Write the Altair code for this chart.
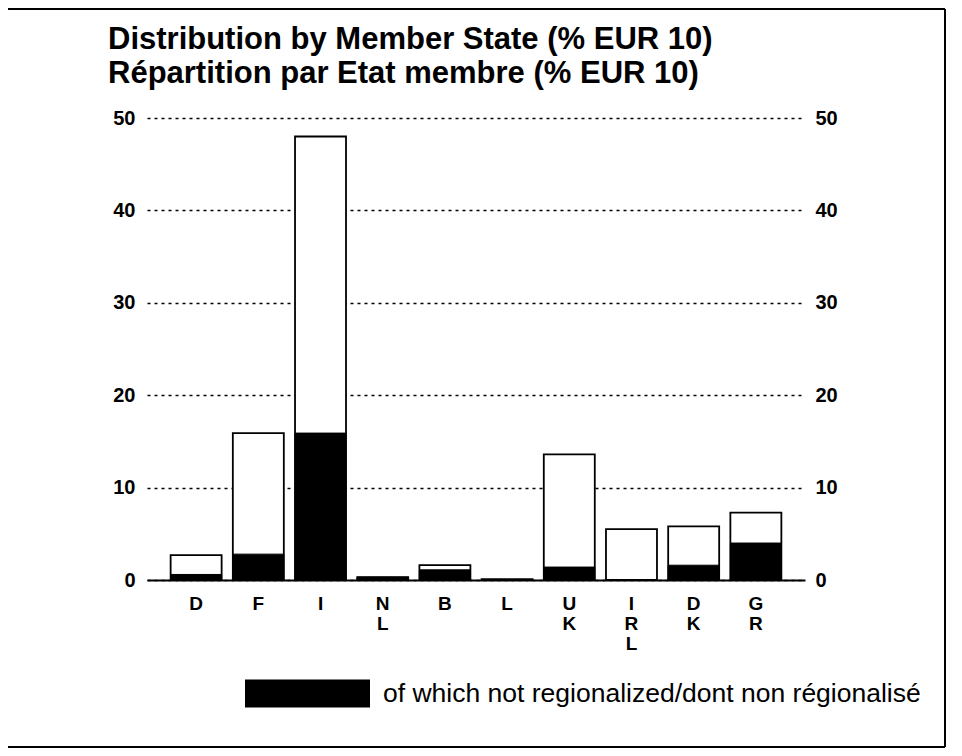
import altair as alt
import pandas as pd

FONT = "Liberation Sans"

states = ["D", "F", "I", "NL", "B", "L", "UK", "IRL", "DK", "GR"]
total = [2.7, 15.9, 48.0, 0.3, 1.6, 0.1, 13.6, 5.5, 5.8, 7.3]
not_regionalized = [0.6, 2.8, 15.9, 0.3, 1.1, 0.0, 1.4, 0.0, 1.6, 4.0]
y_ticks = [0, 10, 20, 30, 40, 50]
title_lines = [
    "Distribution by Member State (% EUR 10)",
    "Répartition par Etat membre (% EUR 10)",
]
legend_label = "of which not regionalized/dont non régionalisé"

df = pd.DataFrame({
    "state": states,
    "total": total,
    "notreg": not_regionalized,
    "kind": [legend_label] * len(states),
})

x_enc = alt.X(
    "state:N", sort=states,
    scale=alt.Scale(paddingInner=0.18, paddingOuter=0.38),
    axis=alt.Axis(
        title=None, labelAngle=0, labelExpr="split(datum.label, '')",
        labelFont=FONT, labelFontSize=19, labelFontWeight="bold", labelColor="black",
        labelPadding=14, labelBaseline="top", labelLineHeight=20,
        ticks=False, domainColor="black", domainWidth=1.8,
    ),
)
y_scale = alt.Scale(domain=[0, 50], nice=False)

left_axis = alt.Axis(
    title=None, orient="left", values=y_ticks, grid=True, gridColor="black",
    gridDash=[3, 4], gridWidth=1.3, domain=False, ticks=False,
    labelFont=FONT, labelFontSize=20, labelFontWeight="bold", labelColor="black",
    labelPadding=12,
)
right_axis = alt.Axis(
    title=None, orient="right", values=y_ticks, grid=False, domain=False, ticks=False,
    labelFont=FONT, labelFontSize=20, labelFontWeight="bold", labelColor="black",
    labelPadding=10,
)

base = alt.Chart(df)

totals = base.mark_bar(fill="white", stroke="black", strokeWidth=1.8).encode(
    x=x_enc,
    y=alt.Y("total:Q", scale=y_scale, axis=left_axis),
)

black = base.mark_bar(stroke="black", strokeWidth=1).encode(
    x=x_enc,
    y=alt.Y("notreg:Q", scale=y_scale, axis=right_axis),
    fill=alt.Fill(
        "kind:N",
        scale=alt.Scale(range=["black"]),
        legend=alt.Legend(
            title=None, orient="none", legendX=98, legendY=513,
            symbolType="M-1,-0.224H1V0.224H-1Z", symbolSize=15625,
            symbolStrokeWidth=0, symbolOpacity=1,
            labelFont=FONT, labelFontSize=26.5, labelColor="black",
            labelOffset=13, labelLimit=0, padding=0,
        ),
    ),
)

frame_src = alt.Chart(pd.DataFrame({"k": [0]}))
top_rule = frame_src.mark_rule(color="black", strokeWidth=2).encode(
    x=alt.value(-139), x2=alt.value(798), y=alt.value(-109))
right_rule = frame_src.mark_rule(color="black", strokeWidth=2).encode(
    x=alt.value(798), y=alt.value(-109), y2=alt.value(629))
bottom_rule = frame_src.mark_rule(color="black", strokeWidth=2).encode(
    x=alt.value(-139), x2=alt.value(798), y=alt.value(629))

chart = alt.layer(totals, black, top_rule, right_rule, bottom_rule).resolve_scale(
    y="independent"
).properties(
    width=658, height=462,
    title=alt.TitleParams(
        text=title_lines, anchor="start", frame="group", dx=-39, dy=100, offset=18,
        font=FONT, fontSize=31, fontWeight="bold", color="black", lineHeight=34,
    ),
    padding={"left": 139, "top": 110, "right": 149, "bottom": 168},
    autosize=alt.AutoSizeParams(type="none"),
    background="white",
).configure_view(stroke=None)

chart.save("out.html", embed_options={"renderer": "svg", "actions": False})
